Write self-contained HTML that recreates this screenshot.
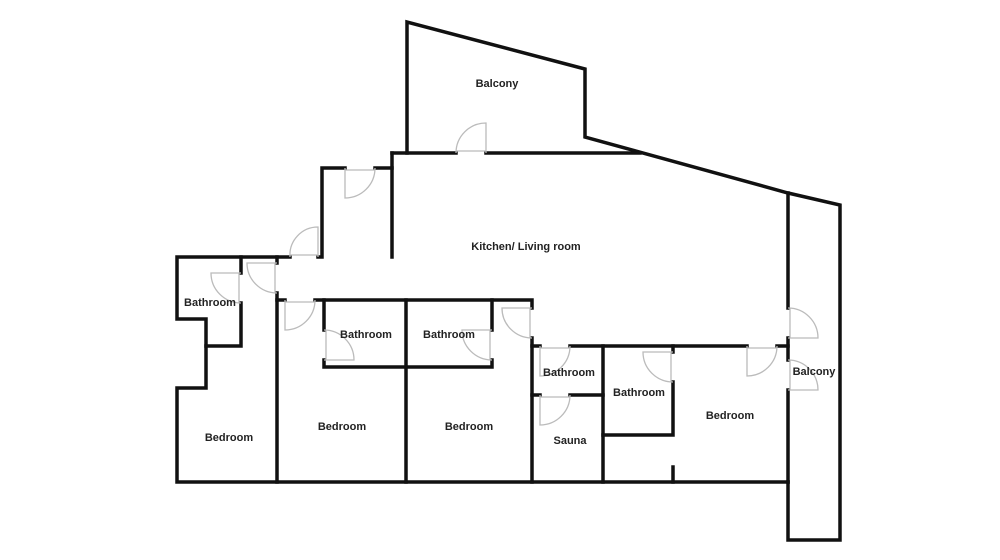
<!DOCTYPE html>
<html><head><style>
body{margin:0;background:#fff;width:1000px;height:560px;overflow:hidden}
svg{display:block}
text{font-family:"Liberation Sans",sans-serif;font-size:11px;font-weight:bold;fill:#222;text-anchor:middle}
.w{stroke:#111;stroke-width:3.5;fill:none;stroke-linecap:square}
.d{stroke:#bbb;stroke-width:1.3;fill:none}
</style></head><body>
<svg width="1000" height="560" viewBox="0 0 1000 560">
<!-- walls -->
<g class="w">
<polyline points="407,153 407,22 585,69 585,137 788,193 840,205 840,540 788,540 788,482"/>
<line x1="392" y1="153" x2="456" y2="153"/><line x1="486" y1="153" x2="640" y2="153"/>
<line x1="392" y1="153" x2="392" y2="257"/>
<polyline points="345,168 322,168 322,257 318,257"/>
<line x1="375" y1="168" x2="392" y2="168"/>
<polyline points="290,257 177,257 177,319 206,319 206,388 177,388 177,482 788,482"/>
<polyline points="206,346 241,346 241,303"/><line x1="241" y1="273" x2="241" y2="257"/>
<line x1="277" y1="293" x2="277" y2="482"/><line x1="277" y1="263" x2="277" y2="257"/>
<line x1="277" y1="300" x2="285" y2="300"/><polyline points="315,300 532,300 532,308"/>
<line x1="324" y1="300" x2="324" y2="330"/><polyline points="324,360 324,367 492,367 492,360"/>
<line x1="492" y1="300" x2="492" y2="330"/>
<line x1="406" y1="300" x2="406" y2="482"/>
<line x1="532" y1="338" x2="532" y2="482"/>
<line x1="532" y1="346" x2="540" y2="346"/><line x1="570" y1="346" x2="747" y2="346"/><line x1="777" y1="346" x2="788" y2="346"/>
<line x1="532" y1="395" x2="540" y2="395"/><line x1="570" y1="395" x2="603" y2="395"/>
<line x1="603" y1="346" x2="603" y2="482"/>
<polyline points="673,382 673,435 603,435"/><line x1="673" y1="346" x2="673" y2="352"/>
<line x1="673" y1="467" x2="673" y2="482"/>
<line x1="788" y1="193" x2="788" y2="308"/><line x1="788" y1="338" x2="788" y2="360"/><line x1="788" y1="390" x2="788" y2="482"/>
</g>
<!-- doors -->
<g class="d">
<path d="M486,153 L486,123 A30,30 0 0 0 456,153 M456,151 H486"/>
<path d="M345,168 L345,198 A30,30 0 0 0 375,168 M345,170 H375"/>
<path d="M318,257 L318,227 A28,28 0 0 0 290,257 M290,255 H318"/>
<path d="M241,273 L211,273 A30,30 0 0 0 241,303 M239,273 V303"/>
<path d="M277,263 L247,263 A30,30 0 0 0 277,293 M275,263 V293"/>
<path d="M285,300 L285,330 A30,30 0 0 0 315,300 M285,302 H315"/>
<path d="M324,360 L354,360 A30,30 0 0 0 324,330 M326,330 V360"/>
<path d="M492,330 L462,330 A30,30 0 0 0 492,360 M490,330 V360"/>
<path d="M532,308 L502,308 A30,30 0 0 0 532,338 M530,308 V338"/>
<path d="M540,346 L540,376 A30,30 0 0 0 570,346 M540,348 H570"/>
<path d="M540,395 L540,425 A30,30 0 0 0 570,395 M540,397 H570"/>
<path d="M673,352 L643,352 A30,30 0 0 0 673,382 M671,352 V382"/>
<path d="M747,346 L747,376 A30,30 0 0 0 777,346 M747,348 H777"/>
<path d="M788,338 L818,338 A30,30 0 0 0 788,308 M790,308 V338"/>
<path d="M788,390 L818,390 A30,30 0 0 0 788,360 M790,360 V390"/>
</g>
<text x="497" y="87">Balcony</text>
<text x="526" y="250">Kitchen/ Living room</text>
<text x="210" y="306">Bathroom</text>
<text x="366" y="338">Bathroom</text>
<text x="449" y="338">Bathroom</text>
<text x="569" y="376">Bathroom</text>
<text x="639" y="396">Bathroom</text>
<text x="229" y="441">Bedroom</text>
<text x="342" y="430">Bedroom</text>
<text x="469" y="430">Bedroom</text>
<text x="570" y="444">Sauna</text>
<text x="730" y="419">Bedroom</text>
<text x="814" y="375">Balcony</text>
</svg>
</body></html>
